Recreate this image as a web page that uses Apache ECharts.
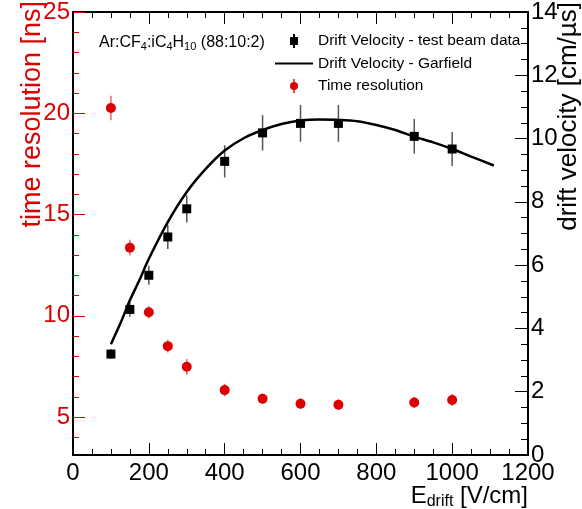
<!DOCTYPE html>
<html><head><meta charset="utf-8">
<script src="https://cdn.jsdelivr.net/npm/echarts@6/dist/echarts.min.js"></script>
<style>html,body{margin:0;padding:0;background:#fff}#c{width:582px;height:509px}</style>
</head><body><div id="c"></div>
<script>
// ---- data ----
const fieldX = [100, 150, 200, 250, 300, 400, 500, 600, 700, 900, 1000];
const timeRes = [20.26, 13.36, 10.17, 8.5, 7.48, 6.33, 5.9, 5.66, 5.61, 5.72, 5.84];
const timeResErr = [0.6, 0.39, 0.3, 0.31, 0.39, 0.31, 0.25, 0.27, 0.27, 0.27, 0.3];
const driftVel = [3.19, 4.6, 5.68, 6.89, 7.78, 9.28, 10.18, 10.48, 10.48, 10.07, 9.67];
const driftVelErr = [0.16, 0.23, 0.3, 0.38, 0.43, 0.51, 0.56, 0.58, 0.58, 0.55, 0.54];
const garfieldX = [100, 125, 150, 175, 200, 250, 300, 350, 400, 450, 500, 550, 600, 650, 700, 750, 800, 850, 900, 950, 1000, 1050, 1110];
const garfieldV = [3.5, 4.16, 4.89, 5.52, 6.2, 7.36, 8.31, 9.04, 9.62, 10.01, 10.27, 10.46, 10.57, 10.6, 10.59, 10.55, 10.43, 10.27, 10.06, 9.88, 9.67, 9.43, 9.15];
const leftTickLabels = [5, 10, 15, 20, 25];
const leftMinorTicks = [4, 6, 7, 8, 9, 11, 12, 13, 14, 16, 17, 18, 19, 21, 22, 23, 24];
const seriesNames = ['Drift Velocity - test beam data', 'Drift Velocity - Garfield', 'Time resolution'];
const gasLabel = 'Ar:CF{s|4}:iC{s|4}H{s|10} (88:10:2)';

// ---- styling ----
const FONT = '"Liberation Sans", Arial, Helvetica, sans-serif';
const RED = '#dd0000';
const RED_ERR = '#e66a6a';
const BLK_ERR = '#555555';

function errRender(color) {
  return function (params, api) {
    const x = api.value(0);
    const p1 = api.coord([x, api.value(1)]);
    const p2 = api.coord([x, api.value(2)]);
    return { type: 'line', shape: { x1: p1[0], y1: p1[1], x2: p2[0], y2: p2[1] },
      style: { stroke: color, lineWidth: 1.5 } };
  };
}

const chart = echarts.init(document.getElementById('c'), null, { renderer: 'canvas' });
const xCommon = {
  type: 'value', min: 0, max: 1200, interval: 200,
  axisLine: { show: true, onZero: false, lineStyle: { color: '#000', width: 2 } },
  axisTick: { show: true, inside: true, length: 12, lineStyle: { color: '#000', width: 1 } },
  minorTick: { show: true, splitNumber: 4, length: 6, lineStyle: { color: '#000', width: 1 } },
  splitLine: { show: false }, minorSplitLine: { show: false }
};
const option = {
  animation: false,
  backgroundColor: '#fff',
  grid: { left: 73, right: 54, top: 11, bottom: 54, containLabel: false },
  xAxis: [
    Object.assign({}, xCommon, { position: 'bottom',
      axisLabel: { fontSize: 24, color: '#000', margin: 6, fontFamily: FONT, formatter: v => String(v) } }),
    Object.assign({}, xCommon, { position: 'top', axisLabel: { show: false } })
  ],
  yAxis: [
    { type: 'value', min: 3.125, max: 25, position: 'left',
      axisLine: { show: true, onZero: false, lineStyle: { color: '#000', width: 2 } },
      axisTick: { show: true, inside: true, length: 12, customValues: leftTickLabels, lineStyle: { color: RED } },
      axisLabel: { customValues: leftTickLabels, color: RED, fontSize: 24, margin: 3, fontFamily: FONT },
      splitLine: { show: false } },
    { type: 'value', min: 0, max: 14, interval: 2, position: 'right',
      axisLine: { show: true, onZero: false, lineStyle: { color: '#000', width: 2 } },
      axisTick: { show: true, inside: true, length: 13, lineStyle: { color: '#000' } },
      minorTick: { show: true, splitNumber: 4, length: 7, lineStyle: { color: '#000' } },
      axisLabel: { color: '#000', fontSize: 24, margin: 3, fontFamily: FONT },
      splitLine: { show: false }, minorSplitLine: { show: false } },
    { type: 'value', min: 3.125, max: 25, position: 'left',
      axisLine: { show: false },
      axisTick: { show: true, inside: true, length: 6, customValues: leftMinorTicks, lineStyle: { color: RED } },
      axisLabel: { show: false }, splitLine: { show: false } }
  ],
  legend: {
    orient: 'vertical', left: 270, top: 28, itemGap: 6.5, itemWidth: 38, itemHeight: 14,
    selectedMode: false,
    textStyle: { fontSize: 15.5, color: '#000', fontFamily: FONT },
    data: [
      { name: seriesNames[0], icon: 'path://M3,0 L5,0 L5,3 L8,3 L8,11 L5,11 L5,14 L3,14 L3,11 L0,11 L0,3 L3,3 Z', itemStyle: { color: '#000', opacity: 1 } },
      { name: seriesNames[1], icon: 'path://M0,0 L36,0 L36,2 L0,2 Z', itemStyle: { color: '#000', opacity: 1 } },
      { name: seriesNames[2], icon: 'path://M0,8 A4,4 0 1,1 8,8 A4,4 0 1,1 0,8 Z M3.3,1 L4.7,1 L4.7,15 L3.3,15 Z', itemStyle: { color: RED, opacity: 1 } }
    ]
  },
  series: [
    { type: 'custom', xAxisIndex: 0, yAxisIndex: 1, renderItem: errRender(BLK_ERR), z: 2,
      encode: { x: 0, y: [1, 2] },
      data: fieldX.map((x, i) => [x, driftVel[i] - driftVelErr[i], driftVel[i] + driftVelErr[i]]) },
    { type: 'custom', xAxisIndex: 0, yAxisIndex: 0, renderItem: errRender(RED_ERR), z: 2,
      encode: { x: 0, y: [1, 2] },
      data: fieldX.map((x, i) => [x, timeRes[i] - timeResErr[i], timeRes[i] + timeResErr[i]]) },
    { name: seriesNames[1], type: 'line', xAxisIndex: 0, yAxisIndex: 1, smooth: 0.3,
      showSymbol: false, z: 3,
      lineStyle: { color: '#000', width: 2.5 }, itemStyle: { color: '#000' },
      data: garfieldX.map((x, i) => [x, garfieldV[i]]) },
    { name: seriesNames[0], type: 'scatter', xAxisIndex: 0, yAxisIndex: 1, symbol: 'rect', symbolSize: 9, z: 4,
      itemStyle: { color: '#000', opacity: 1 },
      data: fieldX.map((x, i) => [x, driftVel[i]]) },
    { name: seriesNames[2], type: 'scatter', xAxisIndex: 0, yAxisIndex: 0, symbol: 'circle', symbolSize: 10, z: 4,
      itemStyle: { color: RED, opacity: 1 },
      data: fieldX.map((x, i) => [x, timeRes[i]]) }
  ],
  graphic: [
    { type: 'text', x: 99, y: 43, style: {
      text: gasLabel, fontSize: 16, fontFamily: FONT, fill: '#000', lineHeight: 18, verticalAlign: 'middle',
      rich: { s: { fontSize: 11, lineHeight: 7, verticalAlign: 'bottom', fontFamily: FONT, fill: '#000' } } } },
    { type: 'text', x: 33, y: 1, rotation: Math.PI / 2, style: {
      text: 'time resolution [ns]', fontSize: 27, fontFamily: FONT, fill: RED, align: 'right', verticalAlign: 'middle' } },
    { type: 'text', x: 569, y: 2, rotation: Math.PI / 2, style: {
      text: 'drift velocity [cm/\u00b5s]', fontSize: 26, fontFamily: FONT, fill: '#000', align: 'right', verticalAlign: 'middle' } },
    { type: 'text', x: 528, y: 496, style: {
      text: 'E{s|drift} [V/cm]', fontSize: 24, fontFamily: FONT, fill: '#000', align: 'right', verticalAlign: 'middle', lineHeight: 28,
      rich: { s: { fontSize: 16, lineHeight: 12, verticalAlign: 'bottom', fontFamily: FONT, fill: '#000' } } } }
  ]
};
chart.setOption(option);
</script>
</body></html>
